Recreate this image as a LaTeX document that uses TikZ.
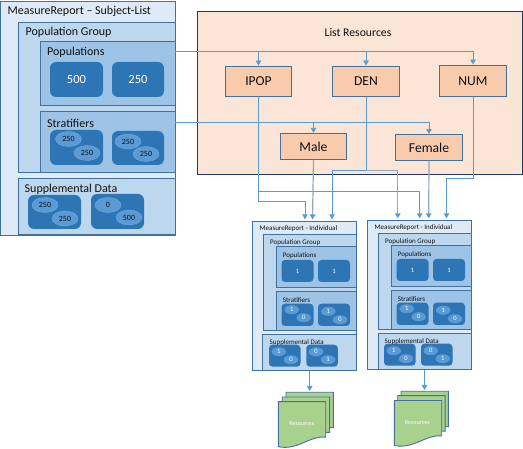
\documentclass[tikz,border=0pt]{standalone}
\usepackage{fontspec}
\setmainfont{Carlito}
\usetikzlibrary{arrows.meta,shapes.geometric}
\definecolor{edgeb}{HTML}{41719C}
\definecolor{paneA}{HTML}{DEEAF6}
\definecolor{paneB}{HTML}{BDD7EE}
\definecolor{paneC}{HTML}{9DC3E6}
\definecolor{tileb}{HTML}{2E75B6}
\definecolor{ellb}{HTML}{5B9BD5}
\definecolor{peach}{HTML}{FBE5D6}
\definecolor{peachd}{HTML}{F8CBAD}
\definecolor{darkedge}{HTML}{203864}
\definecolor{linkb}{HTML}{5B9BD5}
\definecolor{linkg}{HTML}{8FA8C2}
\definecolor{sheet}{HTML}{A9D18E}
\definecolor{ink}{HTML}{111111}
\tikzset{
  paneone/.style={draw=edgeb,fill=paneA,line width=0.9pt,inner sep=0pt},
  panetwo/.style={draw=edgeb,fill=paneB,line width=0.9pt,inner sep=0pt},
  panethree/.style={draw=edgeb,fill=paneC,line width=0.9pt,inner sep=0pt},
  tile/.style={fill=tileb,rounded corners=6pt,inner sep=0pt,text=white,font=\fontsize{12.5}{14}\selectfont},
  tilesm/.style={fill=tileb,rounded corners=3.5pt,inner sep=0pt,text=white,font=\fontsize{6.5}{7}\selectfont},
  oval/.style={ellipse,fill=ellb,draw=ellb!80!white,line width=0.3pt,inner sep=0pt,text=ink,font=\fontsize{8}{8}\selectfont,minimum width=26pt,minimum height=15pt},
  ovalsm/.style={ellipse,fill=ellb,inner sep=0pt,text=white,font=\fontsize{6.5}{7}\selectfont,minimum width=14.5pt,minimum height=9pt},
  capt/.style={anchor=west,inner sep=0pt,text=ink},
  capbig/.style={capt,font=\fontsize{12}{13}\selectfont},
  capsm/.style={capt,font=\fontsize{7}{8}\selectfont},
  listbox/.style={draw=darkedge,fill=peach,line width=0.9pt,inner sep=0pt},
  rsc/.style={draw=edgeb,fill=peachd,line width=0.9pt,inner sep=0pt,text=ink,font=\fontsize{13.6}{15}\selectfont},
  conn/.style={draw=linkb,line width=0.9pt,-{Triangle[width=5.5pt,length=5pt,color=linkb]}},
  conngrey/.style={conn,draw=linkg,line width=1.2pt},
  docsheet/.style={draw=edgeb,fill=sheet,line width=0.9pt},
}
\newcommand\bx[7]{%
  \pgfmathsetmacro\cxv{(#3+#5)/2}\pgfmathsetmacro\cyv{(#4+#6)/2}%
  \pgfmathsetmacro\wv{#5-#3}\pgfmathsetmacro\hv{#6-#4}%
  \node[#1,minimum width=\wv pt,minimum height=\hv pt] (#2) at (\cxv,\cyv) {#7};}
\newcommand\sheetpath[2]{%
  \path[docsheet] (#1,#2) -- ++(47.4,0) -- ++(0,35.5)
    .. controls +(-16,-2) and +(20,4) .. ++(-47.4,9.5) -- cycle;}
\newcommand\pairoval[6]{%
  \node[#1] (#2a) at (#3) {#4};\node[#1] (#2b) at (#5) {#6};}
% name, dx, dy, supplemental left, supplemental tile 1 x, supplemental tile 2 x
\newcommand\indiv[6]{%
  \begin{scope}[shift={(#2,#3)}]
  \bx{paneone}{#1}{252.3}{221.3}{356.7}{370.3}{}
  \bx{panetwo}{#1grp}{263.3}{234.3}{356.7}{330.3}{}
  \bx{panethree}{#1pop}{276.3}{246.3}{356.7}{287.3}{}
  \bx{tilesm}{#1pa}{281.5}{260}{313.5}{282}{1}
  \bx{tilesm}{#1pb}{318}{260}{350}{282}{1}
  \bx{panethree}{#1str}{276.3}{291.3}{356.7}{330.3}{}
  \bx{tilesm}{#1sa}{281.5}{303.7}{313.5}{326}{}
  \bx{tilesm}{#1sb}{318}{303.7}{350}{326}{}
  \pairoval{ovalsm}{#1so}{291.7,309.7}{1}{303.7,317.7}{0}
  \pairoval{ovalsm}{#1sp}{328.3,311.3}{1}{340,319.7}{0}
  \bx{panetwo}{#1sup}{#4}{334.3}{356.7}{370.3}{}
  \pgfmathsetmacro\tone{#5}\pgfmathsetmacro\ttwo{#6}%
  \pgfmathsetmacro\toner{#5+31.5}\pgfmathsetmacro\ttwor{#6+31.5}%
  \bx{tilesm}{#1ua}{\tone}{344.7}{\toner}{366.7}{}
  \bx{tilesm}{#1ub}{\ttwo}{344.7}{\ttwor}{366.7}{}
  \pairoval{ovalsm}{#1uo}{\tone+9.7,351.7}{1}{\tone+22,359.7}{0}
  \pairoval{ovalsm}{#1up}{\ttwo+9.7,351.7}{0}{\ttwo+21.7,359.7}{1}
  \node[capsm] (#1t) at (259.5,228.7) {MeasureReport - Individual};
  \node[capsm] (#1tg) at (270,242.7) {Population Group};
  \node[capsm] (#1tp) at (282.7,255.7) {Populations};
  \node[capsm] (#1ts) at (282.7,300.5) {Stratifiers};
  \node[capsm] (#1tu) at (269.5,342.5) {Supplemental Data};
  \end{scope}}
\begin{document}
\begin{tikzpicture}[x=1pt,y=-1pt]
\useasboundingbox (0,0) rectangle (523,449);
% subject list report
\bx{paneone}{rep}{0.3}{1.5}{175}{235}{}
\bx{panetwo}{grp}{18.5}{22}{175}{172}{}
\bx{panethree}{pops}{40.5}{41.5}{175}{105}{}
\bx{tile}{pa}{50}{62}{103}{97}{500}
\bx{tile}{pb}{112}{62}{164}{97}{250}
\bx{panethree}{strat}{40.5}{111}{175}{172}{}
\bx{tile}{sa}{50}{130}{103}{165}{}
\bx{tile}{sb}{112}{131}{164}{165}{}
\pairoval{oval}{so}{68.5,139}{250}{87,153}{250}
\pairoval{oval}{sp}{128,141.5}{250}{146,154}{250}
\bx{panetwo}{supp}{18.5}{178}{175}{234.5}{}
\bx{tile}{ua}{28}{195}{81}{229}{}
\bx{tile}{ub}{91}{194}{144}{229}{}
\pairoval{oval}{uo}{45,205}{250}{65,218.5}{250}
\pairoval{oval}{up}{108,205}{0}{129,217.5}{500}
\node[capbig] (trep) at (7.5,11.5) {MeasureReport – Subject-List};
\node[capbig] (tgrp) at (25.5,32.5) {Population Group};
\node[capbig] (tpop) at (47,52.5) {Populations};
\node[capbig] (tstr) at (47,123.5) {Stratifiers};
\node[capbig] (tsup) at (24.5,189.5) {Supplemental Data};
% list resources
\bx{listbox}{list}{197.5}{11.5}{522.7}{174}{}
\node[capt,anchor=center,font=\fontsize{11.7}{13}\selectfont] (tlist) at (358,33) {List Resources};
\bx{rsc}{ipop}{225.3}{66}{291.7}{96.7}{IPOP}
\bx{rsc}{den}{332.3}{66}{399.7}{96.7}{DEN}
\bx{rsc}{num}{439.3}{65}{506.7}{96.7}{NUM}
\bx{rsc}{male}{280.3}{133.3}{346.7}{159.5}{Male}
\bx{rsc}{female}{395.3}{134.5}{462.7}{160.5}{Female}
% individual reports
\indiv{ia}{0}{0}{262.3}{269}{306.3}
\indiv{ib}{115}{-1}{263.3}{269}{306}
% documents
\sheetpath{286}{392.3}\sheetpath{282.2}{397}\sheetpath{278.3}{401.7}
\sheetpath{401}{391.3}\sheetpath{397.7}{395.7}\sheetpath{394.3}{400.5}
\coordinate (doca) at (309.7,391);
\coordinate (docb) at (424.5,390);
\node[inner sep=0pt,text=white,font=\fontsize{6}{7}\selectfont] (resa) at (301.7,423.7) {Resources};
\node[inner sep=0pt,text=white,font=\fontsize{6}{7}\selectfont] (resb) at (417.3,422.3) {Resources};
% connectors
\draw[conn] ([yshift=21.6pt]pops.east) -| (ipop.north);
\draw[conn] ([yshift=21.6pt]pops.east) -| (den.north);
\draw[conn] ([yshift=21.6pt]pops.east) -| (num.north);
\draw[conn] ([yshift=19pt]strat.east) -| (male.north);
\draw[conn] ([yshift=19pt]strat.east) -| (female.north);
\coordinate (ina) at ([xshift=0.5pt,yshift=1.5pt]ia.north);
\coordinate (inb) at ([xshift=8pt,yshift=1.5pt]ia.north);
\coordinate (inc) at ([xshift=27.5pt,yshift=1.5pt]ia.north);
\coordinate (ind) at ([xshift=-21.7pt,yshift=1.5pt]ib.north);
\coordinate (ine) at ([xshift=0.2pt,yshift=1.5pt]ib.north);
\coordinate (inf) at ([xshift=9.2pt,yshift=1.5pt]ib.north);
\coordinate (ing) at ([xshift=27pt,yshift=1.5pt]ib.north);
\coordinate (jipa) at ([yshift=-104.5pt]ipop.south);
\coordinate (jipb) at ([yshift=-94.8pt]ipop.south);
\coordinate (jden) at ([yshift=-73.3pt]den.south);
\coordinate (jnum) at ([yshift=-81.5pt]num.south);
\draw[conn] (ipop.south) |- (jipa) -| (ina);
\draw[conn] (ipop.south) |- (jipb) -| (ine);
\draw[conngrey] (male.south) -- (inb);
\draw[conn] (den.south) |- (jden) -| (inc);
\draw[conngrey] (jden) -| (ind);
\draw[conn,-] (den.south) -- (jden);
\draw[conngrey] (female.south) -- (inf);
\draw[conn] (num.south) |- (jnum) -| (ing);
\draw[conn] ([xshift=5.2pt]ia.south) -- (doca);
\draw[conn] ([xshift=5pt]ib.south) -- (docb);
\end{tikzpicture}
\end{document}
